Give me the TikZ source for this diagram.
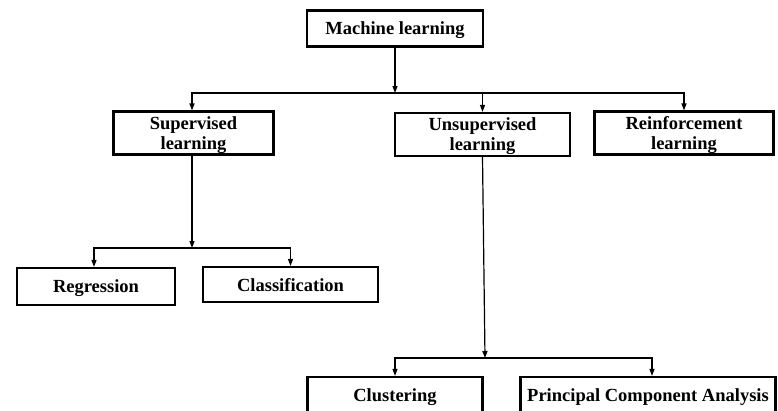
\documentclass[tikz,border=0pt]{standalone}
\usepackage{fontspec}
\setmainfont{Liberation Serif}
\usetikzlibrary{arrows.meta}

\tikzset{
  box/.style={draw, line width=2.2pt, inner sep=2pt, align=center, text depth=0pt,
    font=\fontsize{18.5}{20}\selectfont\bfseries},
  arr/.style={line width=1.2pt, -{Triangle[length=7pt,width=5pt]}}
}

\begin{document}
\begin{tikzpicture}[x=1pt, y=-1pt]
                  \useasboundingbox (0,0) rectangle (778,410);

                  % Define points
                  \coordinate (M) at (395,28.5);
                  \coordinate (S) at (193.5,133);
                  \coordinate (U) at (482.5,134.5);
                  \coordinate (R) at (684,133);
                  \coordinate (G) at (96,286.5);
                  \coordinate (K) at (290.5,284.5);
                  \coordinate (C) at (395,395);
                  \coordinate (P) at (648,395);

                  % Junctions
                  \coordinate (J1) at (395,93);
                  \coordinate (J2) at (192,248);
                  \coordinate (J3) at (485,358);

                  % Draw boxes
                  \node[box, minimum width=176pt, minimum height=36pt] (ml) at (M) {Machine learning};
                  \node[box, minimum width=160pt, minimum height=43pt] (sup) at (S) {Supervised\\learning};
                  \node[box, minimum width=175pt, minimum height=43pt] (uns) at (U) {Unsupervised\\learning};
                  \node[box, minimum width=179pt, minimum height=43pt] (rei) at (R) {Reinforcement\\learning};
                  \node[box, minimum width=158pt, minimum height=37pt] (reg) at (G) {Regression};
                  \node[box, minimum width=175pt, minimum height=35pt] (cla) at (K) {Classification};
                  \node[box, minimum width=175pt, minimum height=36pt] (clu) at (C) {Clustering};
                  \node[box, minimum width=255pt, minimum height=36pt] (pca) at (P) {Principal Component Analysis};

                  % Draw arrows
                  \draw[arr] (ml) -- (J1);
                  \draw[arr] (J1) -| (sup.north -| J2);
                  \draw[arr] (J1) -| (rei);
                  \draw[arr] (uns.north |- J1) -- (uns.north);

                  \draw[arr] (sup.south -| J2) -- (J2);
                  \draw[arr] (J2) -| (reg.north -| 94,0);
                  \draw[arr] (J2) -| (cla);

                  \draw[arr] (uns.south) -- (J3);
                  \draw[arr] (J3) -| (clu);
                  \draw[arr] (J3) -| (pca.north -| 652,0);

              \end{tikzpicture}
\end{document}
